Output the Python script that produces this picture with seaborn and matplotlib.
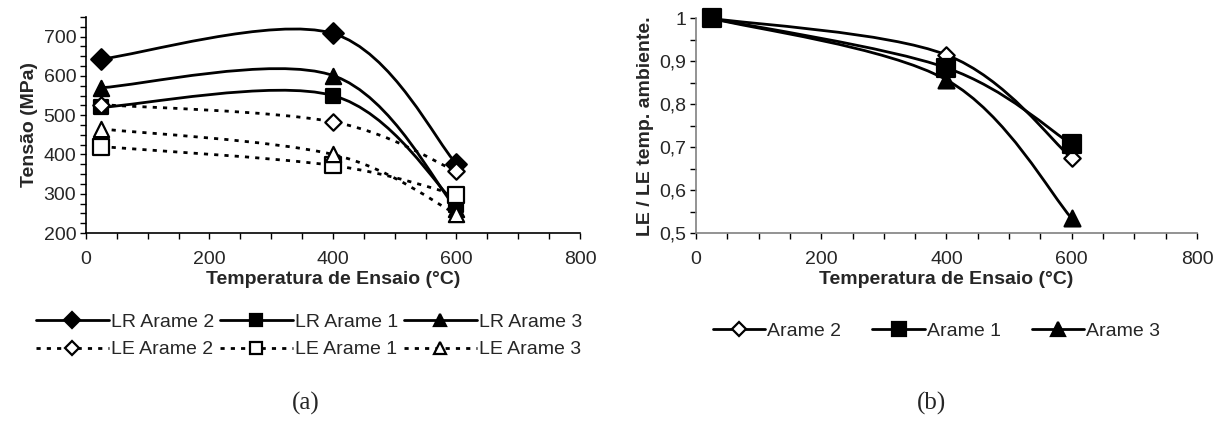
import numpy as np
import pandas as pd
import seaborn as sns
import matplotlib.pyplot as plt
from matplotlib.path import Path
from matplotlib.patches import PathPatch
from matplotlib.lines import Line2D
from matplotlib.ticker import MultipleLocator, FuncFormatter

# temperatures (°C)
temps = [25, 400, 600]

# (a) tensile strength (LR) and yield strength (LE), MPa
lr_arame2 = [643, 708, 376]
lr_arame1 = [520, 550, 272]
lr_arame3 = [570, 601, 262]
le_arame2 = [527, 483, 357]
le_arame1 = [420, 372, 297]
le_arame3 = [465, 400, 248]

# (b) LE / LE at room temperature
ratio_arame2 = [1.0, 0.915, 0.675]
ratio_arame1 = [1.0, 0.885, 0.707]
ratio_arame3 = [1.0, 0.857, 0.535]

sns.set_style("white")
plt.rcParams['font.family'] = ['Liberation Sans', 'DejaVu Sans']

FS = 14
DOTS = (0, (1.5, 2.2))


def smooth_path(x, y):
    # Excel-like smoothed line: cubic bezier with catmull-rom control points
    p = np.column_stack([x, y]).astype(float)
    n = len(p)
    verts = [p[0]]
    codes = [Path.MOVETO]
    for i in range(n - 1):
        prev = p[i - 1] if i > 0 else p[i]
        nxt = p[i + 2] if i + 2 < n else p[i + 1]
        c1 = p[i] + (p[i + 1] - prev) / 6
        c2 = p[i + 1] - (nxt - p[i]) / 6
        verts += [c1, c2, p[i + 1]]
        codes += [Path.CURVE4] * 3
    return Path(verts, codes)


def draw_series(ax, y, marker, face, size, ls):
    ax.add_patch(PathPatch(smooth_path(temps, y), fill=False, lw=2,
                           edgecolor='black', linestyle=ls, zorder=2,
                           capstyle='butt'))
    df = pd.DataFrame({'T': temps, 'v': y})
    sns.scatterplot(data=df, x='T', y='v', marker=marker, s=size,
                    color=face, edgecolor='black', linewidth=1.6,
                    ax=ax, zorder=3, clip_on=False, legend=False)


def style_axes(ax, spine_color):
    for s in ['top', 'right']:
        ax.spines[s].set_visible(False)
    for s in ['left', 'bottom']:
        ax.spines[s].set_color(spine_color)
        ax.spines[s].set_linewidth(1.2)
    ax.set_xlim(0, 800)
    ax.xaxis.set_major_locator(MultipleLocator(200))
    ax.xaxis.set_minor_locator(MultipleLocator(50))
    ax.tick_params(which='both', direction='out', length=4, width=1,
                   color='black', labelsize=FS, bottom=True, left=True)
    ax.tick_params(axis='x', pad=9)
    ax.tick_params(axis='y', pad=3)
    ax.set_xlabel('Temperatura de Ensaio (°C)', fontsize=FS,
                  fontweight='bold', labelpad=2)


fig = plt.figure(figsize=(12.21, 4.28), dpi=100)
ax1 = fig.add_axes([0.0704, 0.4556, 0.4046, 0.5047])
ax2 = fig.add_axes([0.570, 0.4548, 0.4103, 0.5023])

# (a)
draw_series(ax1, lr_arame2, 'D', 'black', 110, '-')
draw_series(ax1, lr_arame1, 's', 'black', 110, '-')
draw_series(ax1, lr_arame3, '^', 'black', 120, '-')
draw_series(ax1, le_arame2, 'D', 'white', 70, DOTS)
draw_series(ax1, le_arame1, 's', 'white', 120, DOTS)
draw_series(ax1, le_arame3, '^', 'white', 120, DOTS)
style_axes(ax1, 'black')
ax1.set_ylim(200, 750)
ax1.set_yticks([200, 300, 400, 500, 600, 700])
ax1.yaxis.set_minor_locator(MultipleLocator(25))
ax1.set_ylabel('Tensão (MPa)', fontsize=FS, fontweight='bold', labelpad=4)


def handle(marker, face, ms, ls):
    return Line2D([], [], color='black', lw=2, linestyle=ls, marker=marker,
                  markersize=ms, markerfacecolor=face,
                  markeredgecolor='black', markeredgewidth=1.6)


h_a = [handle('D', 'black', 8, '-'), handle('D', 'white', 7, DOTS),
       handle('s', 'black', 9, '-'), handle('s', 'white', 9, DOTS),
       handle('^', 'black', 9, '-'), handle('^', 'white', 9, DOTS)]
l_a = ['LR Arame 2', 'LE Arame 2', 'LR Arame 1', 'LE Arame 1',
       'LR Arame 3', 'LE Arame 3']
fig.legend(h_a, l_a, ncol=3, loc='center', bbox_to_anchor=(0.253, 0.215),
           frameon=False, fontsize=FS, handlelength=3.75, handletextpad=0.1,
           columnspacing=0.3, labelspacing=0.5)

# (b)
draw_series(ax2, ratio_arame2, 'D', 'white', 70, '-')
draw_series(ax2, ratio_arame1, 's', 'black', 150, '-')
draw_series(ax2, ratio_arame3, '^', 'black', 130, '-')
style_axes(ax2, '#808080')
ax2.set_ylim(0.5, 1.0)
ax2.yaxis.set_major_locator(MultipleLocator(0.1))
ax2.yaxis.set_minor_locator(MultipleLocator(0.05))
ax2.yaxis.set_major_formatter(
    FuncFormatter(lambda v, _: f'{v:.1f}'.rstrip('0').rstrip('.').replace('.', ',')))
ax2.set_ylabel('LE / LE temp. ambiente.', fontsize=FS, fontweight='bold',
               labelpad=4)

h_b = [handle('D', 'white', 7, '-'), handle('s', 'black', 10, '-'),
       handle('^', 'black', 10, '-')]
fig.legend(h_b, ['Arame 2', 'Arame 1', 'Arame 3'], ncol=3, loc='center',
           bbox_to_anchor=(0.767, 0.226), frameon=False, fontsize=FS,
           handlelength=2.7, handletextpad=0.1, columnspacing=1.6)

fig.text(306 / 1221, 1 - 403 / 428, '(a)', ha='center', va='center',
         family='Liberation Serif', fontsize=18)
fig.text(932 / 1221, 1 - 403 / 428, '(b)', ha='center', va='center',
         family='Liberation Serif', fontsize=18)

fig.savefig('out.png', dpi=100)
